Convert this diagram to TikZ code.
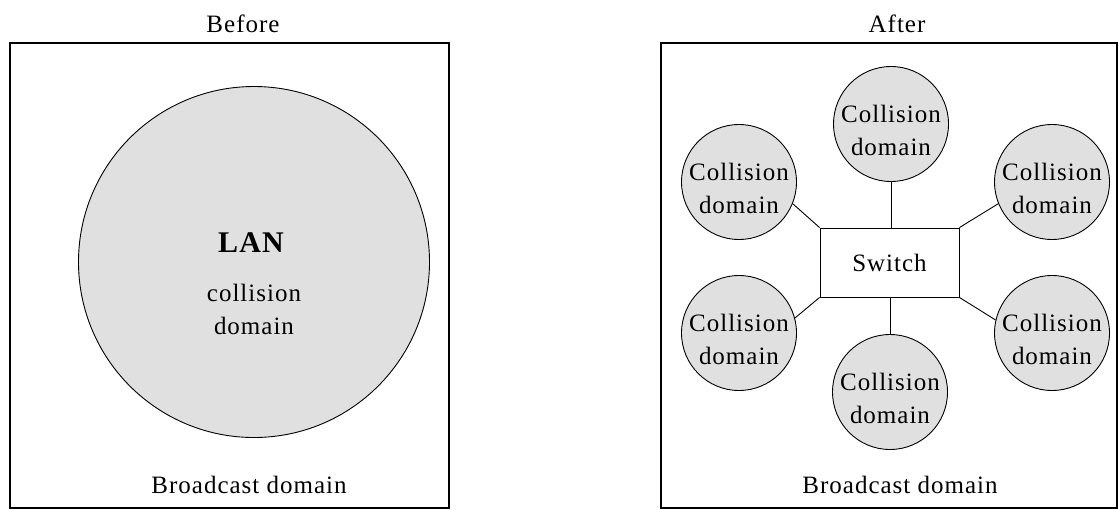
\documentclass[tikz,border=0pt]{standalone}
\usepackage{fontspec}
\setmainfont{Liberation Serif}[LetterSpace=4]
\begin{document}
\begin{tikzpicture}[x=1pt,y=-1pt,
  frame/.style={draw=black,line width=1.2pt},
  txt/.style={font=\fontsize{25}{33}\selectfont,align=center,inner sep=0pt},
  cdom/.style={circle,draw=black,line width=0.9pt,fill=black!12,minimum size=115pt,inner sep=0pt},
  sw/.style={draw=black,line width=0.9pt,minimum width=139pt,minimum height=69pt,inner sep=0pt,txt},
  link/.style={draw=black,line width=0.9pt}]
\useasboundingbox (0,0) rectangle (1118,509);
% Before
\node[txt] (tb) at (243,24) {Before};
\node[frame,minimum width=439pt,minimum height=465pt,inner sep=0pt] (fb) at (229.5,275.5) {};
\node[circle,draw=black,line width=0.9pt,fill=black!12,minimum size=351pt,inner sep=0pt] (lan) at (254,262) {};
\node[font=\fontsize{30}{34}\selectfont\bfseries,inner sep=0pt] (lant) at (251,243) {LAN};
\node[txt] (lanc) at (254,309) {collision\\domain};
\node[txt] (bb) at (249,485) {Broadcast domain};
% After
\node[txt] (ta) at (897,24) {After};
\node[frame,minimum width=456pt,minimum height=465pt,inner sep=0pt] (fa) at (889,275.5) {};
\node[sw] (s) at (889.5,262.5) {Switch};
\node[cdom] (c1) at (891,124) {};
\node[cdom] (c2) at (739,182) {};
\node[cdom] (c3) at (1052,182) {};
\node[cdom] (c4) at (739,333) {};
\node[cdom] (c5) at (1052,333) {};
\node[cdom] (c6) at (890,392) {};
\node[txt] (l1) at ([yshift=-6pt]c1.center) {Collision\\domain};
\node[txt] (l2) at ([yshift=-6pt]c2.center) {Collision\\domain};
\node[txt] (l3) at ([yshift=-6pt]c3.center) {Collision\\domain};
\node[txt] (l4) at ([yshift=-6pt]c4.center) {Collision\\domain};
\node[txt] (l5) at ([yshift=-6pt]c5.center) {Collision\\domain};
\node[txt] (l6) at ([yshift=-6pt]c6.center) {Collision\\domain};
\node[txt] (ba) at (900,485) {Broadcast domain};
\draw[link] (c1) -- (c1 |- s.north);
\draw[link] (c6) -- (c6 |- s.south);
\draw[link] (c2.-22) -- (s.north west);
\draw[link] (c3.202) -- (s.north east);
\draw[link] (c4.15) -- (s.south west);
\draw[link] (c5.167) -- (s.south east);
\end{tikzpicture}
\end{document}
